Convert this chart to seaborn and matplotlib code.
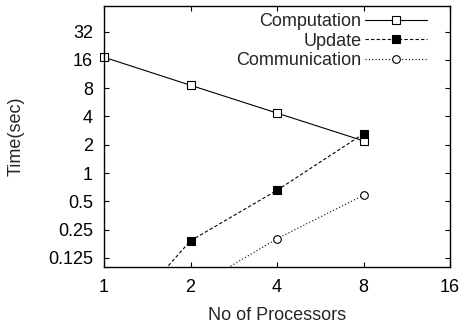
import matplotlib
matplotlib.use("Agg")
import matplotlib.pyplot as plt
import seaborn as sns
from matplotlib.lines import Line2D
from matplotlib.transforms import Bbox, TransformedBbox

# Data
procs = [1, 2, 4, 8]
computation = [17.1, 8.6, 4.35, 2.2]
update = [0.0175, 0.19, 0.655, 2.62]
comm_procs = [2, 4, 8]
communication = [0.057, 0.2, 0.58]

x_ticks = [1, 2, 4, 8, 16]
x_ticklabels = ["1", "2", "4", "8", "16"]
y_ticks = [0.125, 0.25, 0.5, 1, 2, 4, 8, 16, 32]
y_ticklabels = ["0.125", "0.25", "0.5", "1", "2", "4", "8", "16", "32"]

sns.set_style("ticks")
plt.rcParams["font.family"] = ["Liberation Sans", "DejaVu Sans"]

FS = 13

fig = plt.figure(figsize=(4.61, 3.27), dpi=100)
ax = fig.add_axes([104 / 461, 60 / 327, 346 / 461, 261 / 327])

series = [
    ("Computation", procs, computation, "-", "s", "white"),
    ("Update", procs, update, (0, (3, 2)), "s", "black"),
    ("Communication", comm_procs, communication, (0, (1, 2)), "o", "white"),
]

handles = []
for label, xs, ys, ls, mk, mfc in series:
    sns.lineplot(x=xs, y=ys, ax=ax, color="black", linewidth=0.8,
                 linestyle=ls, marker=mk, markersize=5.5,
                 markerfacecolor=mfc, markeredgecolor="black",
                 markeredgewidth=0.8, legend=False, sort=False,
                 estimator=None)
    handles.append(Line2D([], [], color="black", linewidth=0.8, linestyle=ls,
                          marker=mk, markersize=5.5, markerfacecolor=mfc,
                          markeredgecolor="black", markeredgewidth=0.8,
                          label=label))

ax.set_xscale("log", base=2)
ax.set_yscale("log", base=2)
ax.set_xlim(1, 16)
ax.set_ylim(0.1, 60)

clip = TransformedBbox(Bbox([[-0.05, 0], [1.05, 1]]), ax.transAxes)
for ln in ax.get_lines():
    ln.set_clip_box(clip)
    ln.set_clip_path(None)

ax.set_xticks(x_ticks)
ax.set_xticklabels(x_ticklabels)
ax.set_yticks(y_ticks)
ax.set_yticklabels(y_ticklabels)
ax.minorticks_off()
ax.tick_params(axis="both", which="both", direction="in", length=3.5,
               width=0.8, top=True, right=True, labelsize=FS, colors="black")
ax.tick_params(axis="x", pad=9)
ax.tick_params(axis="y", pad=8)
for sp in ax.spines.values():
    sp.set_visible(True)
    sp.set_linewidth(1.0)
    sp.set_color("black")

ax.set_xlabel("No of Processors", fontsize=FS)
ax.set_ylabel("Time(sec)", fontsize=FS)
ax.xaxis.set_label_coords(0.5, (267 - 307) / 261)
ax.yaxis.set_label_coords((25 - 104) / 346, 0.5)

ax.legend(handles=handles, loc="upper right",
          bbox_to_anchor=((427 - 104) / 346, (267 - 13) / 261),
          frameon=False, markerfirst=False, fontsize=FS,
          handlelength=3.43, handletextpad=0.2, labelspacing=0.15,
          borderaxespad=0, borderpad=0)

fig.savefig("out.png", dpi=100)
